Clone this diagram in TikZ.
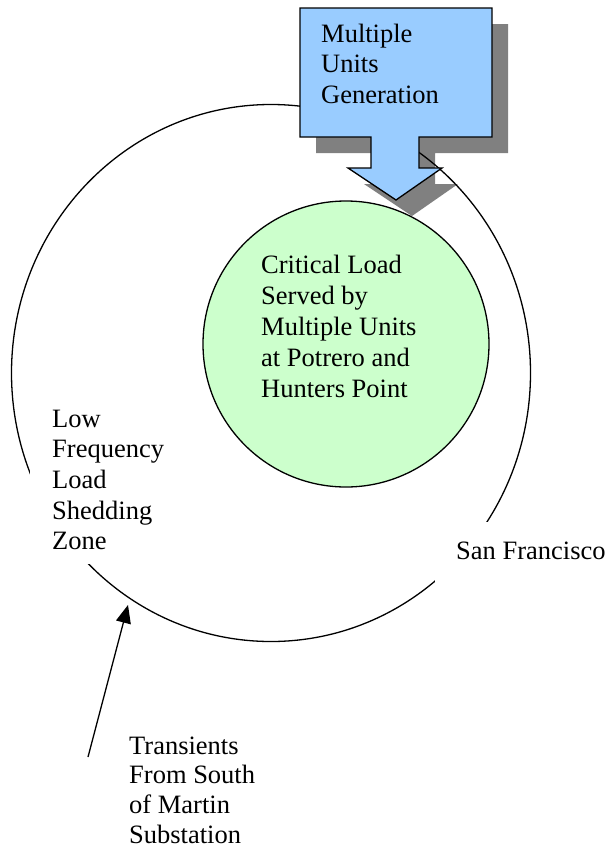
\documentclass[tikz,border=0pt]{standalone}
\usepackage{fontspec}
\setmainfont{Liberation Serif}
\newfontfamily\tnrfont{Liberation Serif}
\usetikzlibrary{arrows.meta,shapes.geometric}
\definecolor{boxblue}{HTML}{99CCFF}
\definecolor{critgreen}{HTML}{CCFFCC}
\definecolor{shadowgray}{HTML}{808080}
\begin{document}
\begin{tikzpicture}[x=1pt,y=-1pt,
  lbl/.style={font=\tnrfont\fontsize{26.5}{30.7}\selectfont, anchor=base west, inner sep=0pt},
  outline/.style={draw=black, line width=1.3pt},
  whitebox/.style={fill=white}]
\useasboundingbox (0,0) rectangle (607,849);
\def\arrowpath{(300,8) -- (492,8) -- (492,137) -- (419,137) -- (419,168) -- (442,168) -- (396,200) -- (348,168) -- (371,168) -- (371,137) -- (300,137) -- cycle}
% shadow of the block arrow
\fill[shadowgray, shift={(16,16)}] \arrowpath;
% outer zone
\node[ellipse, outline, minimum width=519pt, minimum height=537pt, inner sep=0pt] (zone) at (271,373) {};
% critical load circle
\node[circle, outline, fill=critgreen, minimum size=286pt, inner sep=0pt] (crit) at (346,344) {};
\node[lbl, font=\tnrfont\fontsize{26.5}{31.2}\selectfont] (critText) at (261,273)
  {\begin{tabular}[t]{@{}l@{}}Critical Load\\Served by\\Multiple Units\\at Potrero and\\Hunters Point\end{tabular}};
% block arrow
\filldraw[fill=boxblue, outline, line join=miter] \arrowpath;
\node[lbl] (gen) at (321,42)
  {\begin{tabular}[t]{@{}l@{}}Multiple\\Units\\Generation\end{tabular}};
% labels covering the zone outline
\node[lbl, whitebox, inner xsep=22pt, inner ysep=5pt] (lfls) at (30,427)
  {\begin{tabular}[t]{@{}l@{}}Low\\Frequency\\Load\\Shedding\\Zone\end{tabular}};
\node[lbl, whitebox, inner xsep=21pt, inner ysep=15.5pt] (sfo) at (435,559)
  {\begin{tabular}[t]{@{}l@{}}San Francisco\end{tabular}};
% transients
\node[lbl, font=\tnrfont\fontsize{26.5}{29.8}\selectfont] (trans) at (129,754)
  {\begin{tabular}[t]{@{}l@{}}Transients\\From South\\of Martin\\Substation\end{tabular}};
\coordinate (tail) at (88,757);
\coordinate (tip) at (128,605);
\draw[line width=1.3pt, -{Triangle[length=18pt,width=15pt]}] (tail) -- (tip);
\end{tikzpicture}
\end{document}
